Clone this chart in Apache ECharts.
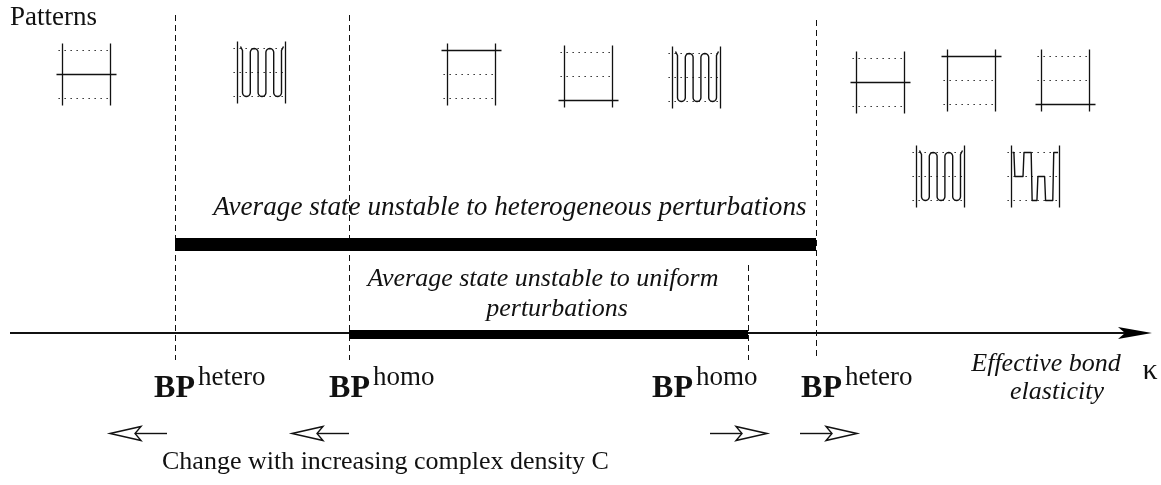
<!DOCTYPE html>
<html><head><meta charset="utf-8">
<script src="https://cdn.jsdelivr.net/npm/echarts@6/dist/echarts.min.js"></script>
<style>html,body{margin:0;padding:0;background:#fff}#c{width:1161px;height:485px}</style>
</head><body><div id="c"></div>
<script>
// ---------------- DATA (schematic kappa units / diagram rows) ----------------
// bifurcation points along the effective bond elasticity axis
const bpKappa = [175, 349, 748, 816];
const bpSup = ['hetero', 'homo', 'homo', 'hetero'];
const bpLineTop = [15, 15, 265, 20];
const bpLineBottom = 360;
// right edge of each "BP" word (label anchor)
const bpLabelKappa = [195, 370, 693, 842];
// direction each bifurcation point moves with increasing complex density C
const bpShiftDir = [-1, -1, 1, 1];
const bpShiftTip = [110, 292, 767, 857];
// instability ranges
const heteroRange = [175, 816];
const homoRange = [349, 748];
const kappaAxisRange = [10, 1152];
// example patterns: left edge kappa, top row, kind
const patternKappa = [62, 237, 447, 564, 672, 856, 947, 1041, 916, 1011];
const patternRow = [50, 48, 50, 52, 53, 58, 56, 56, 152, 152];
const patternKind = ['mid', 'wave', 'top', 'bottom', 'wave', 'mid', 'top', 'bottom', 'wave', 'wave2'];
// texts
const titleText = 'Patterns';
const heteroText = 'Average state unstable to heterogeneous perturbations';
const homoText = ['Average state unstable to uniform', 'perturbations'];
const axisText = ['Effective bond', 'elasticity'];
const axisSymbol = 'κ';
const noteText = 'Change with increasing complex density C';

// ---------------- RENDERING ----------------
const INK = '#111';
const SERIF = '"Liberation Serif","DejaVu Serif",serif';
const chart = echarts.init(document.getElementById('c'), null, {renderer: 'canvas'});

function px(v) { return Math.round(v) + 0.5; }
function seg(x1, y1, x2, y2, lw, dash) {
  const st = {stroke: INK, lineWidth: lw || 1};
  if (dash) st.lineDash = dash;
  return {type: 'line', shape: {x1, y1, x2, y2}, style: st};
}
function textAt(x, baseline, text, font, size, align) {
  return {type: 'text', x: x, y: baseline - 0.34 * size,
    style: {text, font: font, fill: INK, align: align || 'left', textAlign: align || 'left',
      verticalAlign: 'middle', textVerticalAlign: 'middle'}};
}
function wavePts(a, b, yT, yB, n) {
  const pts = [];
  const s = (b - a) / (n - 1), r = s / 2;
  pts.push([a - 2, yT - 2]);
  pts.push([a, yT + 2]);
  for (let k = 0; k < n - 1; k++) {
    const xs = a + k * s, down = k % 2 === 0;
    const yEnd = down ? yB - r : yT + r;
    pts.push([xs, yEnd]);
    const cx = xs + r;
    for (let j = 1; j <= 10; j++) {
      const t = Math.PI * (1 - j / 10);
      pts.push([cx + Math.cos(t) * r, yEnd + Math.sin(t) * r * (down ? 1 : -1)]);
    }
  }
  pts.push([b, yT + 2]);
  pts.push([b + 2, yT - 2]);
  return pts;
}
// second-type wave: fraction of width -> level (0 top, 1 mid, 2 bottom)
const wave2Shape = [[0.02,0],[0.05,0],[0.07,1],[0.24,1],[0.26,0],[0.41,0],[0.43,2],[0.53,2],[0.55,1],[0.69,1],[0.71,2],[0.86,2],[0.88,0],[0.97,0]];

const series = [];
// dashed bifurcation lines
series.push({
  type: 'custom', silent: true, z: 2,
  data: bpKappa.map((k, i) => [k, bpLineTop[i], bpLineBottom]),
  renderItem(params, api) {
    const a = api.coord([api.value(0), api.value(1)]);
    const b = api.coord([api.value(0), api.value(2)]);
    return seg(px(a[0]), a[1], px(b[0]), b[1], 1, [6, 4]);
  }
});
// instability bars
series.push({
  type: 'custom', silent: true, z: 3,
  data: [[heteroRange[0], heteroRange[1], 244], [homoRange[0], homoRange[1], 334]],
  renderItem(params, api) {
    const a = api.coord([api.value(0), api.value(2)]);
    const b = api.coord([api.value(1), api.value(2)]);
    const h = params.dataIndex === 0 ? 13 : 9;
    return {type: 'rect', shape: {x: a[0], y: Math.round(a[1] - h / 2), width: b[0] - a[0], height: h},
      style: {fill: '#000'}};
  }
});
// kappa axis with arrow
series.push({
  type: 'custom', silent: true, z: 2,
  data: [[kappaAxisRange[0], kappaAxisRange[1], 333]],
  renderItem(params, api) {
    const a = api.coord([api.value(0), api.value(2)]);
    const b = api.coord([api.value(1), api.value(2)]);
    const y = a[1];
    return {type: 'group', children: [
      {type: 'rect', shape: {x: a[0], y: y - 1, width: b[0] - a[0] - 20, height: 2}, style: {fill: INK}},
      {type: 'polygon', shape: {points: [[b[0], y], [b[0] - 34, y - 6], [b[0] - 27, y], [b[0] - 34, y + 6]]},
        style: {fill: '#000'}}
    ]};
  }
});
// patterns
series.push({
  type: 'custom', silent: true, z: 4,
  data: patternKappa.map((k, i) => [k, patternRow[i]]),
  renderItem(params, api) {
    const kind = patternKind[params.dataIndex];
    const o = api.coord([api.value(0), api.value(1)]);
    const x0 = px(o[0]), yT = px(o[1]);
    const w = 48, g = 24, x1 = x0 + w, yM = yT + g, yB = yT + 2 * g;
    const ch = [seg(x0, yT - 7, x0, yB + 7, 1.3), seg(x1, yT - 7, x1, yB + 7, 1.3)];
    [yT, yM, yB].forEach(y => ch.push(seg(x0 - 4, y, x1 + 2, y, 1.2, [1.3, 4.7])));
    const lv = {top: yT, mid: yM, bottom: yB};
    if (kind in lv) ch.push(seg(x0 - 6, lv[kind], x1 + 6, lv[kind], 1.6));
    if (kind === 'wave') {
      ch.push({type: 'polyline', shape: {points: wavePts(x0 + 5, x1 - 4, yT, yB, 6)},
        style: {stroke: INK, lineWidth: 1.4, fill: null}});
    }
    if (kind === 'wave2') {
      const lvY = [yT, yM, yB];
      ch.push({type: 'polyline', shape: {points: wave2Shape.map(p => [x0 + p[0] * w, lvY[p[1]]])},
        style: {stroke: INK, lineWidth: 1.4, fill: null, lineJoin: 'round'}});
    }
    return {type: 'group', children: ch};
  }
});
// BP labels and shift arrows
series.push({
  type: 'custom', silent: true, z: 5,
  data: bpKappa.map((k, i) => [bpLabelKappa[i], 400, bpShiftTip[i], 433]),
  renderItem(params, api) {
    const i = params.dataIndex;
    const a = api.coord([api.value(0), api.value(1)]);
    const t = api.coord([api.value(2), api.value(3)]);
    const d = bpShiftDir[i];
    const tx = t[0], y = px(t[1]);
    const head = [[tx, y], [tx - d * 31, y - 7], [tx - d * 25, y], [tx - d * 31, y + 7]];
    return {type: 'group', children: [
      textAt(a[0], a[1], 'BP', 'bold 32px ' + SERIF, 32, 'right'),
      textAt(a[0] + 3, a[1] - 13, bpSup[i], '27px ' + SERIF, 27, 'left'),
      seg(tx - d * 25, y, tx - d * 57, y, 1.4),
      {type: 'polygon', shape: {points: head}, style: {fill: '#fff', stroke: INK, lineWidth: 1.4, lineJoin: 'miter'}}
    ]};
  }
});

chart.setOption({
  animation: false,
  grid: {left: 0, right: 0, top: 0, bottom: 0},
  xAxis: {type: 'value', min: 0, max: 1161, show: false},
  yAxis: {type: 'value', min: 0, max: 485, inverse: true, show: false},
  series: series,
  graphic: [
    textAt(10, 27, titleText, '27px ' + SERIF, 27, 'left'),
    textAt(510, 217, heteroText, 'italic 27.2px ' + SERIF, 27.2, 'center'),
    textAt(543, 288, homoText[0], 'italic 26px ' + SERIF, 26, 'center'),
    textAt(557, 318, homoText[1], 'italic 26px ' + SERIF, 26, 'center'),
    textAt(1046, 373, axisText[0], 'italic 26px ' + SERIF, 26, 'center'),
    textAt(1057, 401, axisText[1], 'italic 26px ' + SERIF, 26, 'center'),
    textAt(1150, 381, axisSymbol, '30px ' + SERIF, 30, 'center'),
    textAt(162, 471, noteText, '26px ' + SERIF, 26, 'left')
  ]
});
</script></body></html>
